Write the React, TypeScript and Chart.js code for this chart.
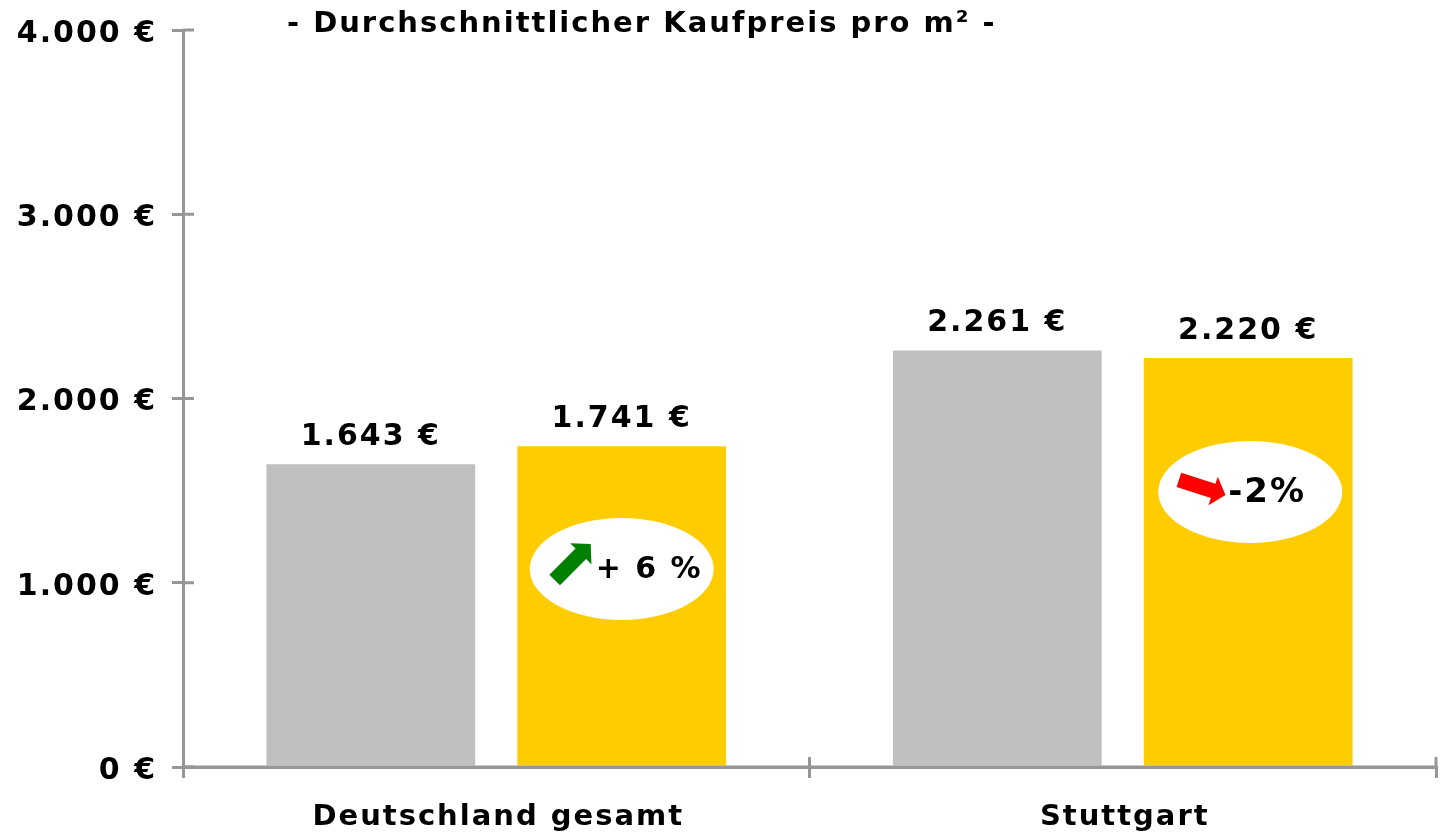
import React, { useEffect, useRef } from "react";
import { Chart, registerables } from "chart.js";

Chart.register(...registerables);

const categories = ["Deutschland gesamt", "Stuttgart"];
const greyValues = [1643, 2261];
const yellowValues = [1741, 2220];
const barLabels = [["1.643 €", "2.261 €"], ["1.741 €", "2.220 €"]];
const changeLabels = ["+ 6 %", "-2%"];
const changeColors = ["#008000", "#FF0000"];
const changeCenters = [1075, 1493];
const changeAngles = [-45, 18];
const titleText = "- Durchschnittlicher Kaufpreis pro m² -";

const FONT = '"DejaVu Sans", sans-serif';
const AXIS = "#969696";
const SPACING = "2px";

const fmt = (v: number) => (v === 0 ? "0 €" : (v / 1000).toFixed(3) + " €");

const decor = {
  id: "decor",
  beforeDraw(chart: any) {
    chart.ctx.letterSpacing = SPACING;
  },
  afterDraw(chart: any) {
    const { ctx, scales } = chart;
    const x = scales.x;
    const y = scales.y;
    ctx.save();
    ctx.letterSpacing = SPACING;

    // Inner half of the crossing axis ticks, and the base line over the bars
    ctx.strokeStyle = AXIS;
    ctx.lineWidth = 3;
    y.ticks.forEach((_: any, i: number) => {
      const p = y.getPixelForTick(i);
      ctx.beginPath();
      ctx.moveTo(x.left, p);
      ctx.lineTo(x.left + 11, p);
      ctx.stroke();
    });
    const half = (x.getPixelForValue(1) - x.getPixelForValue(0)) / 2;
    [1, 2].forEach((k) => {
      const p = x.left + k * 2 * half;
      ctx.beginPath();
      ctx.moveTo(p, y.bottom);
      ctx.lineTo(p, y.bottom - 10);
      ctx.stroke();
    });
    ctx.beginPath();
    ctx.moveTo(x.left, y.bottom);
    ctx.lineTo(x.right, y.bottom);
    ctx.stroke();

    // Value labels over the bars
    ctx.fillStyle = "#000";
    ctx.font = `bold 30px ${FONT}`;
    ctx.textAlign = "center";
    ctx.textBaseline = "alphabetic";
    chart.data.datasets.forEach((_: any, d: number) => {
      chart.getDatasetMeta(d).data.forEach((bar: any, i: number) => {
        ctx.fillText(barLabels[d][i], bar.x, bar.y - 19);
      });
    });

    // Change badges on the yellow bars
    chart.getDatasetMeta(1).data.forEach((bar: any, i: number) => {
      const cy = y.getPixelForValue(changeCenters[i]);
      const cx = bar.x + (i === 0 ? 0 : 2);
      ctx.fillStyle = "#fff";
      ctx.beginPath();
      ctx.ellipse(cx, cy, 92, 51, 0, 0, Math.PI * 2);
      ctx.fill();

      ctx.save();
      ctx.translate(cx + (i === 0 ? -49 : -48), cy + (i === 0 ? -7 : -4.5));
      ctx.rotate((changeAngles[i] * Math.PI) / 180);
      ctx.fillStyle = changeColors[i];
      ctx.beginPath();
      const L = i === 0 ? 25.5 : 24.5;
      const H = i === 0 ? 14 : 13;
      ctx.moveTo(-L, -7.5);
      ctx.lineTo(L - H, -7.5);
      ctx.lineTo(L - H, -15);
      ctx.lineTo(L, 0);
      ctx.lineTo(L - H, 15);
      ctx.lineTo(L - H, 7.5);
      ctx.lineTo(-L, 7.5);
      ctx.closePath();
      ctx.fill();
      ctx.restore();

      ctx.fillStyle = "#000";
      ctx.font = `bold ${i === 0 ? 30 : 34}px ${FONT}`;
      ctx.textAlign = "left";
      ctx.textBaseline = "middle";
      ctx.fillText(changeLabels[i], cx + (i === 0 ? -26 : -22), cy + 1);
    });

    // Heading
    ctx.fillStyle = "#000";
    ctx.font = `bold 29px ${FONT}`;
    ctx.textAlign = "left";
    ctx.textBaseline = "middle";
    ctx.fillText(titleText, 287, 24);
    ctx.restore();
  },
};

export default function App() {
  const ref = useRef<HTMLCanvasElement>(null);
  useEffect(() => {
    const chart = new Chart(ref.current!, {
      type: "bar",
      data: {
        labels: categories,
        datasets: [
          { data: greyValues, backgroundColor: "#C0C0C0", barPercentage: 0.832, categoryPercentage: 0.801 },
          { data: yellowValues, backgroundColor: "#FFCC00", barPercentage: 0.832, categoryPercentage: 0.801 },
        ],
      },
      options: {
        animation: false,
        responsive: false,
        layout: { padding: { top: 30, right: 6, left: 0, bottom: 0 } },
        plugins: { legend: { display: false }, tooltip: { enabled: false }, title: { display: false } },
        scales: {
          x: {
            afterFit: (s: any) => { s.height = 65; s.paddingLeft = 0; s.paddingRight = 0; },
            grid: { drawOnChartArea: false, color: AXIS, lineWidth: 3, tickLength: 11 },
            border: { color: AXIS, width: 3 },
            ticks: { color: "#000", font: { family: FONT, weight: "bold", size: 29 }, padding: 22, labelOffset: 2, maxRotation: 0 },
          },
          y: {
            min: 0,
            max: 4000,
            afterFit: (s: any) => { s.width = 183; s.paddingTop = 0; s.paddingBottom = 0; },
            grid: { drawOnChartArea: false, color: AXIS, lineWidth: 3, tickLength: 11 },
            border: { color: AXIS, width: 3 },
            ticks: {
              stepSize: 1000,
              color: "#000",
              padding: 15,
              labelOffset: 4,
              font: { family: FONT, weight: "bold", size: 30 },
              callback: (v: any) => fmt(Number(v)),
            },
          },
        },
      },
      plugins: [decor],
    } as any);
    return () => chart.destroy();
  }, []);
  return (
    <canvas
      ref={ref}
      width={1442}
      height={832}
      style={{ position: "fixed", left: 0, top: 0, width: 1442, height: 832 }}
    />
  );
}
